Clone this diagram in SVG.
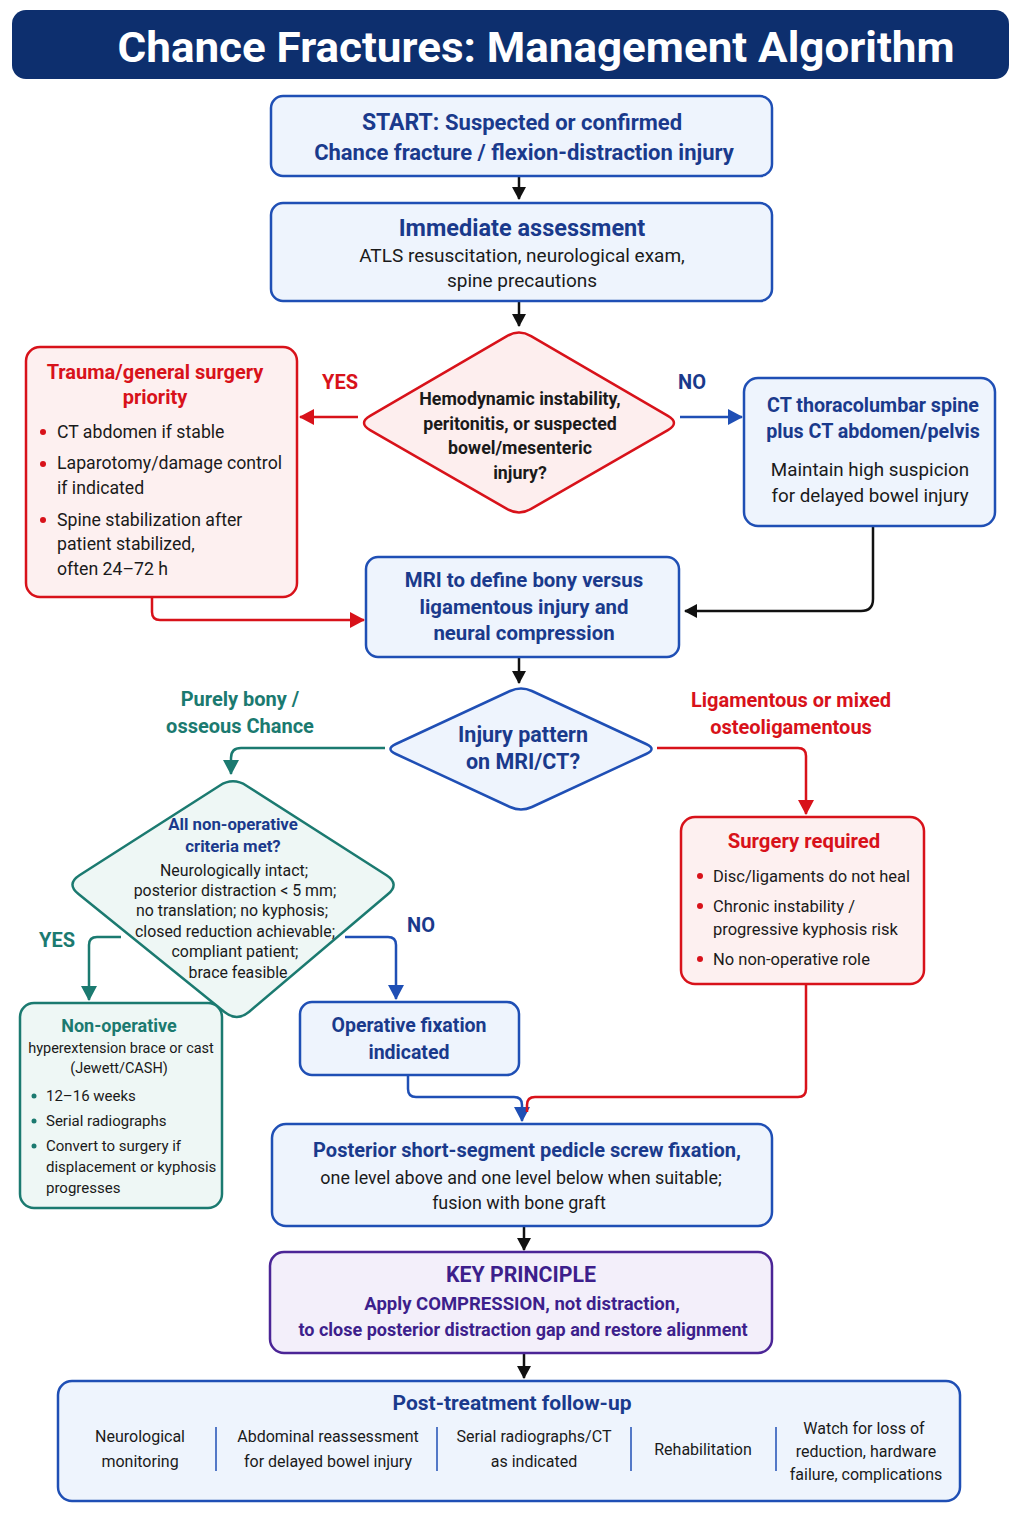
<svg xmlns="http://www.w3.org/2000/svg" width="1024" height="1536" viewBox="0 0 1024 1536">
<defs>
<style>
text{font-family:Roboto,"Liberation Sans",sans-serif;text-anchor:middle}
.b{font-weight:bold}
.navy{fill:#1a3a8c}
.red{fill:#d8121a}
.teal{fill:#1b7a70}
.purple{fill:#3d1f8c}
.blk{fill:#1a1a1a}
.l{text-anchor:start}
.boxB{fill:#eef4fd;stroke:#1f4fb5;stroke-width:2.5}
.boxR{fill:#fdf0f0;stroke:#d8121a;stroke-width:2.5}
.boxT{fill:#eef7f5;stroke:#1b7a70;stroke-width:2.5}
.boxP{fill:#f3effa;stroke:#4b2596;stroke-width:2.5}
.c{fill:none;stroke-width:2.5;stroke-linejoin:round}
.ck{stroke:#111}
.cr{stroke:#d8121a}
.cb{stroke:#1f4fb5}
.ct{stroke:#1b7a70}
.div{stroke:#1f4fb5;stroke-width:1.5}
</style>
<marker id="ak" markerUnits="userSpaceOnUse" markerWidth="14" markerHeight="14" refX="12" refY="7" orient="auto"><path d="M0,0 L13,7 L0,14 Z" fill="#111"/></marker>
<marker id="ar" markerUnits="userSpaceOnUse" markerWidth="16" markerHeight="16" refX="14" refY="8" orient="auto"><path d="M0,0 L15,8 L0,16 Z" fill="#d8121a"/></marker>
<marker id="ab" markerUnits="userSpaceOnUse" markerWidth="16" markerHeight="16" refX="14" refY="8" orient="auto"><path d="M0,0 L15,8 L0,16 Z" fill="#1f4fb5"/></marker>
<marker id="at" markerUnits="userSpaceOnUse" markerWidth="16" markerHeight="16" refX="14" refY="8" orient="auto"><path d="M0,0 L15,8 L0,16 Z" fill="#1b7a70"/></marker>
</defs>
<rect width="1024" height="1536" fill="#ffffff"/>

<g id="title">
<rect x="12" y="10" width="997" height="69" rx="14" fill="#0d2f6e"/>
<text x="536" y="62" font-size="42" class="b" fill="#ffffff" textLength="837" lengthAdjust="spacingAndGlyphs">Chance Fractures: Management Algorithm</text>
</g>

<g id="connectors">
<path class="c ck" d="M519,177 V199" marker-end="url(#ak)"/>
<path class="c ck" d="M519,302 V326" marker-end="url(#ak)"/>
<path class="c cr" d="M358,417 H300" marker-end="url(#ar)"/>
<path class="c cb" d="M680,417 H742" marker-end="url(#ab)"/>
<path class="c ck" d="M873,527 V599 Q873,611 861,611 H685" marker-end="url(#ak)"/>
<path class="c cr" d="M152,598 V612 Q152,620 160,620 H364" marker-end="url(#ar)"/>
<path class="c ck" d="M519,658 V683" marker-end="url(#ak)"/>
<path class="c ct" d="M385,748 H241 Q231,748 231,758 V774" marker-end="url(#at)"/>
<path class="c cr" d="M657,748 H798 Q806,748 806,756 V814" marker-end="url(#ar)"/>
<path class="c ct" d="M121,937 H97 Q89,937 89,945 V1000" marker-end="url(#at)"/>
<path class="c cb" d="M345,937 H388 Q396,937 396,945 V999" marker-end="url(#ab)"/>
<path class="c cb" d="M408,1076 V1089 Q408,1097 416,1097 H514 Q522,1097 522,1105 V1121" marker-end="url(#ab)"/>
<path class="c cr" d="M806,985 V1089 Q806,1097 798,1097 H535 Q527,1097 527,1105 V1112"/>
<path class="c ck" d="M524,1227 V1250" marker-end="url(#ak)"/>
<path class="c ck" d="M524,1354 V1378" marker-end="url(#ak)"/>
</g>

<g id="labels">
<text x="340" y="389" font-size="20" class="b red">YES</text>
<text x="692" y="389" font-size="20" class="b navy">NO</text>
<text x="240" y="706" font-size="20" class="b teal">Purely bony /</text>
<text x="240" y="733" font-size="20" class="b teal">osseous Chance</text>
<text x="791" y="707" font-size="20" class="b red">Ligamentous or mixed</text>
<text x="791" y="734" font-size="20" class="b red">osteoligamentous</text>
<text x="57" y="947" font-size="20" class="b teal">YES</text>
<text x="421" y="932" font-size="20" class="b navy">NO</text>
</g>

<g id="start">
<rect class="boxB" x="271" y="96" width="501" height="80" rx="12"/>
<text x="522" y="130" font-size="23" class="b navy">START: <tspan font-size="22">Suspected or confirmed</tspan></text>
<text x="524" y="160" font-size="22" class="b navy">Chance fracture / flexion-distraction injury</text>
</g>

<g id="assessment">
<rect class="boxB" x="271" y="203" width="501" height="98" rx="12"/>
<text x="522" y="236" font-size="23.5" class="b navy">Immediate assessment</text>
<text x="522" y="262" font-size="19" class="blk">ATLS resuscitation, neurological exam,</text>
<text x="522" y="287" font-size="19" class="blk">spine precautions</text>
</g>

<g id="decision1">
<path d="M506.9,336.1 Q519,329 531.1,336.1 L667.9,415.9 Q680,423 667.9,430.1 L531.1,508.9 Q519,516 506.9,508.9 L370.1,430.1 Q358,423 370.1,415.9 Z" fill="#fdeeee" stroke="#d8121a" stroke-width="2.5"/>
<text x="520" y="405" font-size="17.8" class="b blk">Hemodynamic instability,</text>
<text x="520" y="430" font-size="17.8" class="b blk">peritonitis, or suspected</text>
<text x="520" y="454" font-size="17.8" class="b blk">bowel/mesenteric</text>
<text x="520" y="479" font-size="17.8" class="b blk">injury?</text>
</g>

<g id="trauma">
<rect class="boxR" x="26" y="347" width="271" height="250" rx="14"/>
<text x="155" y="379" font-size="20" class="b red">Trauma/general surgery</text>
<text x="155" y="404" font-size="20" class="b red">priority</text>
<g fill="#d8121a"><circle cx="43" cy="432" r="3"/><circle cx="43" cy="464" r="3"/><circle cx="43" cy="520" r="3"/></g>
<g font-size="17.7" class="blk">
<text class="l" x="57" y="438">CT abdomen if stable</text>
<text class="l" x="57" y="469">Laparotomy/damage control</text>
<text class="l" x="57" y="494">if indicated</text>
<text class="l" x="57" y="526">Spine stabilization after</text>
<text class="l" x="57" y="550">patient stabilized,</text>
<text class="l" x="57" y="575">often 24–72 h</text>
</g>
</g>

<g id="ct">
<rect class="boxB" x="744" y="378" width="251" height="148" rx="14"/>
<text x="873" y="412" font-size="19.7" class="b navy">CT thoracolumbar spine</text>
<text x="873" y="438" font-size="19.7" class="b navy">plus CT abdomen/pelvis</text>
<text x="870" y="476" font-size="18.8" class="blk">Maintain high suspicion</text>
<text x="870" y="502" font-size="18.8" class="blk">for delayed bowel injury</text>
</g>

<g id="mri">
<rect class="boxB" x="366" y="557" width="313" height="100" rx="12"/>
<text x="524" y="587" font-size="20.4" class="b navy">MRI to define bony versus</text>
<text x="524" y="614" font-size="20.4" class="b navy">ligamentous injury and</text>
<text x="524" y="640" font-size="20.4" class="b navy">neural compression</text>
</g>

<g id="decision2">
<path d="M510.1,691 Q521,686 531.9,691 L646.1,744 Q657,749 646.1,754 L531.9,807 Q521,812 510.1,807 L395.9,754 Q385,749 395.9,744 Z" fill="#eef4fd" stroke="#1f4fb5" stroke-width="2.5"/>
<text x="523" y="742" font-size="21.5" class="b navy">Injury pattern</text>
<text x="523" y="769" font-size="21.5" class="b navy">on MRI/CT?</text>
</g>

<g id="decision3">
<path d="M219.5,785.7 Q233,777 246.5,785.7 L386.5,875.3 Q400,884 387.8,894.3 L249.2,1011.7 Q237,1022 224.5,1012 L78.5,894 Q66,884 79.5,875.3 Z" fill="#eef7f5" stroke="#1b7a70" stroke-width="2.5"/>
<text x="233" y="830" font-size="16.8" class="b navy">All non-operative</text>
<text x="233" y="852" font-size="16.8" class="b navy">criteria met?</text>
<g font-size="15.9" class="blk">
<text x="234" y="876">Neurologically intact;</text>
<text x="235" y="896">posterior distraction &lt; 5 mm;</text>
<text x="232" y="916">no translation; no kyphosis;</text>
<text x="235" y="937">closed reduction achievable;</text>
<text x="235" y="957">compliant patient;</text>
<text x="238" y="978">brace feasible</text>
</g>
</g>

<g id="surgery">
<rect class="boxR" x="681" y="817" width="243" height="167" rx="14"/>
<text x="804" y="848" font-size="20.3" class="b red">Surgery required</text>
<g fill="#d8121a"><circle cx="700" cy="876" r="3"/><circle cx="700" cy="906" r="3"/><circle cx="700" cy="959" r="3"/></g>
<g font-size="16.5" class="blk">
<text class="l" x="713" y="882">Disc/ligaments do not heal</text>
<text class="l" x="713" y="912">Chronic instability /</text>
<text class="l" x="713" y="935">progressive kyphosis risk</text>
<text class="l" x="713" y="965">No non-operative role</text>
</g>
</g>

<g id="nonop">
<rect class="boxT" x="20" y="1003" width="202" height="205" rx="14"/>
<text x="119" y="1032" font-size="18" class="b teal">Non-operative</text>
<text x="121" y="1053" font-size="14.5" class="blk">hyperextension brace or cast</text>
<text x="119" y="1073" font-size="14.5" class="blk">(Jewett/CASH)</text>
<g fill="#1b7a70"><circle cx="34" cy="1096" r="2.5"/><circle cx="34" cy="1121" r="2.5"/><circle cx="34" cy="1146" r="2.5"/></g>
<g font-size="15" class="blk">
<text class="l" x="46" y="1101">12–16 weeks</text>
<text class="l" x="46" y="1126">Serial radiographs</text>
<text class="l" x="46" y="1151">Convert to surgery if</text>
<text class="l" x="46" y="1172">displacement or kyphosis</text>
<text class="l" x="46" y="1193">progresses</text>
</g>
</g>

<g id="operative">
<rect class="boxB" x="300" y="1002" width="219" height="73" rx="12"/>
<text x="409" y="1032" font-size="19.5" class="b navy">Operative fixation</text>
<text x="409" y="1059" font-size="19.5" class="b navy">indicated</text>
</g>

<g id="fixation">
<rect class="boxB" x="272" y="1124" width="500" height="102" rx="14"/>
<text x="527" y="1157" font-size="20" class="b navy">Posterior short-segment pedicle screw fixation,</text>
<text x="521" y="1184" font-size="17.9" class="blk">one level above and one level below when suitable;</text>
<text x="519" y="1209" font-size="17.9" class="blk">fusion with bone graft</text>
</g>

<g id="principle">
<rect class="boxP" x="270" y="1252" width="502" height="101" rx="14"/>
<text x="521" y="1282" font-size="21.3" class="b purple">KEY PRINCIPLE</text>
<text x="522" y="1310" font-size="18.5" class="b purple">Apply COMPRESSION, not distraction,</text>
<text x="523" y="1336" font-size="18" class="b purple">to close posterior distraction gap and restore alignment</text>
</g>

<g id="followup">
<rect class="boxB" x="58" y="1381" width="902" height="120" rx="14"/>
<text x="512" y="1410" font-size="21" class="b navy">Post-treatment follow-up</text>
<g font-size="16" class="blk">
<text x="140" y="1442">Neurological</text>
<text x="140" y="1467">monitoring</text>
<text x="328" y="1442">Abdominal reassessment</text>
<text x="328" y="1467">for delayed bowel injury</text>
<text x="534" y="1442">Serial radiographs/CT</text>
<text x="534" y="1467">as indicated</text>
<text x="703" y="1455">Rehabilitation</text>
<text x="864" y="1434">Watch for loss of</text>
<text x="866" y="1457">reduction, hardware</text>
<text x="866" y="1480">failure, complications</text>
</g>
<g class="div"><line x1="216" y1="1427" x2="216" y2="1471"/><line x1="437" y1="1427" x2="437" y2="1471"/><line x1="631" y1="1427" x2="631" y2="1471"/><line x1="776" y1="1427" x2="776" y2="1471"/></g>
</g>
</svg>
